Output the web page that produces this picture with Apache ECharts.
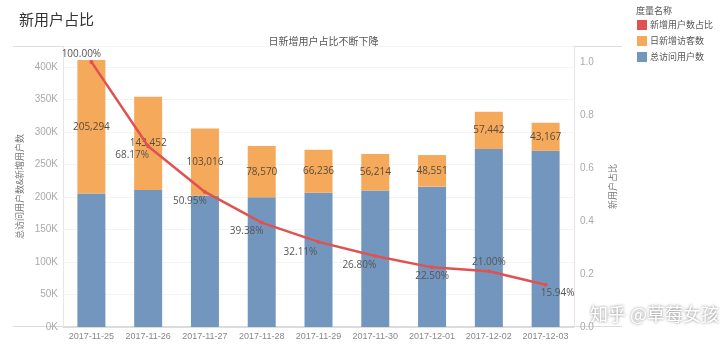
<!DOCTYPE html>
<html>
<head>
<meta charset="utf-8">
<script src="https://cdn.jsdelivr.net/npm/echarts@6/dist/echarts.min.js"></script>
<style>
  html, body { margin: 0; padding: 0; background: #fff; }
  #chart { width: 720px; height: 345px; }
</style>
</head>
<body>
<div id="chart"></div>
<script>
// Daily visitors: total (blue), new (orange) and the share of new users (red line)
const categories = ['2017-11-25', '2017-11-26', '2017-11-27', '2017-11-28', '2017-11-29',
                    '2017-11-30', '2017-12-01', '2017-12-02', '2017-12-03'];
const totalVisitors = [205294, 210432, 202190, 199518, 206279, 209754, 215782, 273533, 270809];
const newVisitors = [205294, 143452, 103016, 78570, 66236, 56214, 48551, 57442, 43167];
const newRatio = [1.0, 0.6817, 0.5095, 0.3938, 0.3211, 0.2680, 0.2250, 0.2100, 0.1594];

const seriesNames = ['新增用户数占比', '日新增访客数', '总访问用户数'];

// where each percentage label sits relative to its point
const ratioLabelOffsets = [[-10, -8], [-16, 9], [-15, 9], [-15, 9], [-18, 10],
                           [-16, 9], [0, 9], [0, -9], [12, 8]];

const FONT = "'Noto Sans CJK SC', 'Noto Sans', sans-serif";
const NUMFONT = "'Open Sans', 'Noto Sans CJK SC', sans-serif";
const TICKFONT = "'Liberation Sans', 'Noto Sans CJK SC', sans-serif";
const BLUE = '#7396bf';
const ORANGE = '#f5a95b';
const RED = '#e05252';

const chart = echarts.init(document.getElementById('chart'), null, { renderer: 'canvas' });

const option = {
  backgroundColor: '#fff',
  animation: false,
  title: [
    { text: '新用户占比', left: 14, top: 7,
      textStyle: { fontFamily: FONT, fontSize: 15, fontWeight: 'normal', color: '#333' } },
    { text: '日新增用户占比不断下降', left: 318.5, top: 31, textAlign: 'center',
      textStyle: { fontFamily: FONT, fontSize: 10, fontWeight: 'normal', color: '#555' } },
    { text: '度量名称', left: 631, top: 1,
      textStyle: { fontFamily: FONT, fontSize: 9, fontWeight: 'normal', color: '#555' } }
  ],
  legend: {
    data: seriesNames,
    orient: 'vertical',
    left: 632, top: 15,
    icon: 'rect',
    itemWidth: 10, itemHeight: 10, itemGap: 6,
    textStyle: { fontFamily: FONT, fontSize: 9, color: '#555', padding: [0, 0, 0, -2] }
  },
  grid: { left: 63, right: 146, top: 46, bottom: 18, containLabel: false },
  xAxis: {
    type: 'category',
    data: categories,
    axisLine: { show: true, lineStyle: { color: '#dcdcdc' } },
    axisTick: { show: false },
    axisLabel: { interval: 0, fontFamily: TICKFONT, fontSize: 9, color: '#888', margin: 5 }
  },
  yAxis: [
    {
      type: 'value', position: 'left',
      min: 0, max: 432000, interval: 50000,
      name: '总访问用户数&新增用户数', nameLocation: 'middle', nameRotate: 90, nameGap: 33,
      nameTextStyle: { fontFamily: FONT, fontSize: 9, color: '#777' },
      axisLine: { show: true, lineStyle: { color: '#e6e6e6' } },
      axisTick: { show: false },
      axisLabel: {
        fontFamily: TICKFONT, fontSize: 10, color: '#aaa', margin: 5, showMaxLabel: false,
        formatter: v => (v / 1000) + 'K'
      },
      splitLine: { show: true, lineStyle: { color: '#f4f4f4' } }
    },
    {
      type: 'value', position: 'right',
      min: 0, max: 1.06, interval: 0.2,
      name: '新用户占比', nameLocation: 'middle', nameRotate: 90, nameGap: 34,
      nameTextStyle: { fontFamily: FONT, fontSize: 9, color: '#777' },
      axisLine: { show: true, lineStyle: { color: '#e6e6e6' } },
      axisTick: { show: false },
      axisLabel: {
        fontFamily: TICKFONT, fontSize: 10, color: '#aaa', margin: 6, showMaxLabel: false,
        formatter: v => v.toFixed(1)
      },
      splitLine: { show: false }
    }
  ],
  series: [
    {
      name: '总访问用户数', type: 'bar', stack: 'visitors', yAxisIndex: 0,
      barWidth: 28,
      itemStyle: { color: BLUE },
      data: totalVisitors
    },
    {
      name: '日新增访客数', type: 'bar', stack: 'visitors', yAxisIndex: 0,
      barWidth: 28,
      itemStyle: { color: ORANGE },
      label: {
        show: true, position: 'inside',
        fontFamily: NUMFONT, fontSize: 10, color: '#5a4b3c',
        formatter: p => p.value.toLocaleString('en-US')
      },
      data: newVisitors
    },
    {
      name: '新增用户数占比', type: 'line', yAxisIndex: 1, z: 5,
      symbol: 'circle', symbolSize: 4,
      lineStyle: { color: RED, width: 2.5 },
      itemStyle: { color: RED },
      label: {
        show: true, position: 'inside',
        fontFamily: NUMFONT, fontSize: 10, color: '#555',
        formatter: p => (p.value * 100).toFixed(2) + '%'
      },
      data: newRatio.map((v, i) => ({ value: v, label: { offset: ratioLabelOffsets[i] } }))
    }
  ],
  graphic: [
    { type: 'line', shape: { x1: 13, y1: 46.5, x2: 622, y2: 46.5 },
      style: { stroke: '#dedede', lineWidth: 1 }, z: 0 },
    { type: 'line', shape: { x1: 13, y1: 326.5, x2: 622, y2: 326.5 },
      style: { stroke: '#dcdcdc', lineWidth: 1 }, z: 0 },
    { type: 'text', left: 590, top: 305, z: 100,
      style: { text: '知乎 @草莓女孩', fontFamily: FONT, fontSize: 18, fill: '#fff',
               textShadowColor: 'rgba(0,0,0,0.55)', textShadowBlur: 3 } }
  ]
};

chart.setOption(option);
</script>
</body>
</html>
